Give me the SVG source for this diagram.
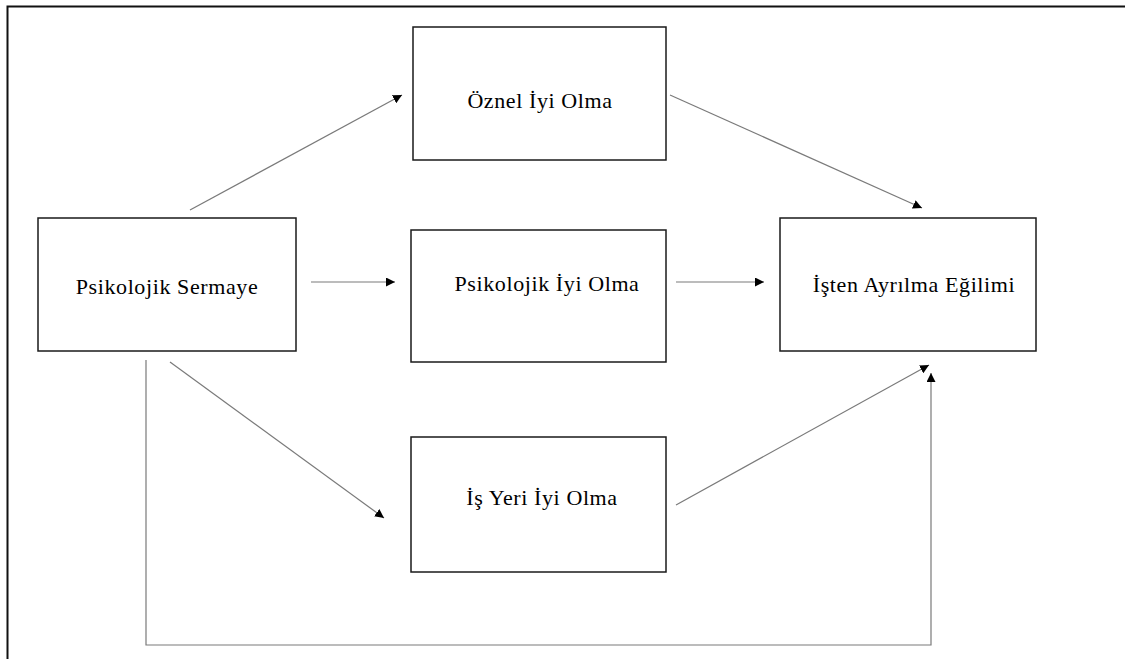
<svg xmlns="http://www.w3.org/2000/svg" width="1125" height="659" viewBox="0 0 1125 659">
<style>
.box{fill:#fff;stroke:#1a1a1a;stroke-width:1.5}
.lbl{font-family:"Liberation Serif","Times New Roman",serif;font-size:22px;letter-spacing:0.6px;fill:#000;text-anchor:middle;dominant-baseline:central}
.con{fill:none;stroke:#7a7a7a;stroke-width:1.2}
</style>
<defs>
<marker id="ah" viewBox="0 0 10 10" refX="10" refY="5" markerWidth="9" markerHeight="9" markerUnits="userSpaceOnUse" orient="auto">
<path d="M0,0 L10,5 L0,10 z" fill="#000"/>
</marker>
</defs>
<rect x="0" y="0" width="1125" height="659" fill="#fff"/>
<path d="M7.5,659 L7.5,6.5 L1125,6.5" fill="none" stroke="#111" stroke-width="2"/>
<g id="connectors">
<line class="con" x1="190" y1="210" x2="402" y2="95" marker-end="url(#ah)"/>
<line class="con" x1="670" y1="95" x2="922" y2="208" marker-end="url(#ah)"/>
<line class="con" x1="311" y1="282" x2="395" y2="282" marker-end="url(#ah)"/>
<line class="con" x1="676" y1="282" x2="764" y2="282" marker-end="url(#ah)"/>
<line class="con" x1="170" y1="362" x2="384" y2="518" marker-end="url(#ah)"/>
<line class="con" x1="676" y1="505" x2="929" y2="365" marker-end="url(#ah)"/>
<path class="con" d="M146,360 L146,645 L931,645 L931,373" marker-end="url(#ah)"/>
</g>
<g id="node-oznel">
<rect class="box" x="413" y="27" width="253" height="133"/>
<text class="lbl" x="540" y="100">Öznel İyi Olma</text>
</g>
<g id="node-ps">
<rect class="box" x="38" y="218" width="258" height="133"/>
<text class="lbl" x="167" y="286">Psikolojik Sermaye</text>
</g>
<g id="node-pio">
<rect class="box" x="411" y="230" width="255" height="132"/>
<text class="lbl" x="547" y="283">Psikolojik İyi Olma</text>
</g>
<g id="node-isten">
<rect class="box" x="780" y="218" width="256" height="133"/>
<text class="lbl" x="914" y="284">İşten Ayrılma Eğilimi</text>
</g>
<g id="node-isyeri">
<rect class="box" x="411" y="437" width="255" height="135"/>
<text class="lbl" x="542" y="497">İş Yeri İyi Olma</text>
</g>
</svg>
